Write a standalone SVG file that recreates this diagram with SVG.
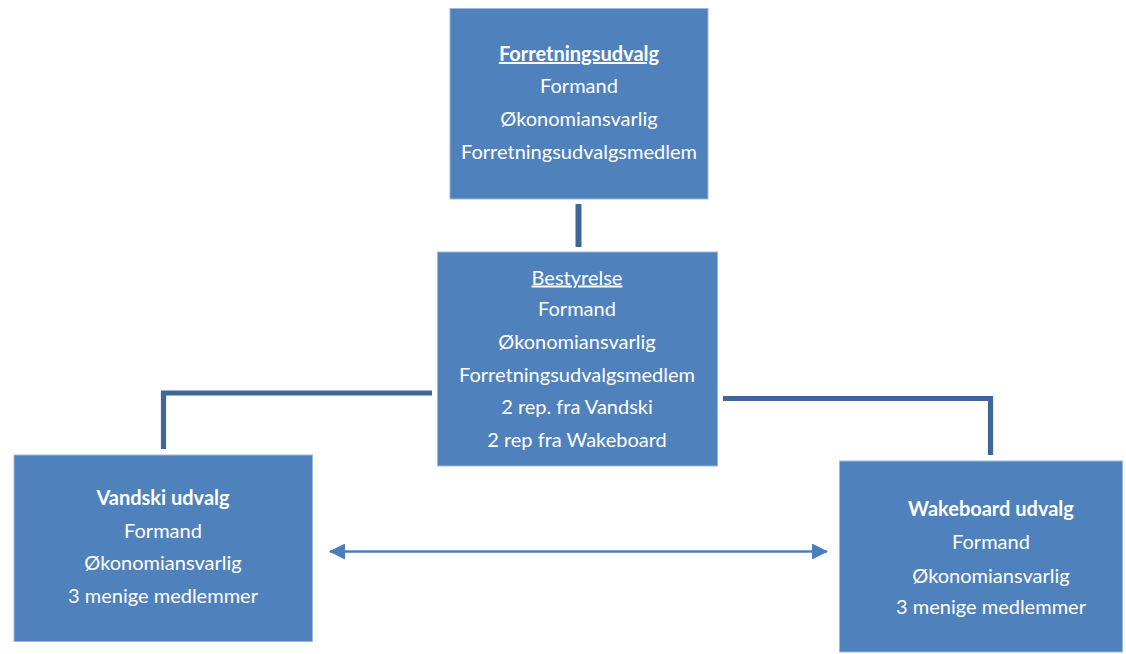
<svg xmlns="http://www.w3.org/2000/svg" width="1126" height="654" viewBox="0 0 1126 654">
<style>
.box{fill:#4F81BD;stroke:#9DB9DD;stroke-width:1}
.t{font-family:Lato,"Open Sans","Liberation Sans",sans-serif;font-size:20px;fill:#FFFFFF;text-anchor:middle}
.b{font-weight:bold}
.u{text-decoration:underline}
.conn{fill:none;stroke:#3D6699;stroke-width:5.2;stroke-linejoin:miter}
.arr{fill:none;stroke:#4A7EBB;stroke-width:2.6}
</style>
<defs>
<marker id="ah" viewBox="0 0 16 16" refX="15" refY="8" markerWidth="16" markerHeight="16" markerUnits="userSpaceOnUse" orient="auto-start-reverse">
<path d="M0,0 L16,8 L0,16 Z" fill="#4A7EBB"/>
</marker>
</defs>
<g id="connectors">
<line class="conn" x1="578.5" y1="204" x2="578.5" y2="247" style="stroke-width:6"/>
<polyline class="conn" points="432,393 163.5,393 163.5,449"/>
<polyline class="conn" points="723,398.5 990.5,398.5 990.5,455"/>
<line class="arr" x1="330" y1="551.5" x2="827" y2="551.5" marker-start="url(#ah)" marker-end="url(#ah)"/>
</g>
<g id="forretningsudvalg">
<rect class="box" x="450" y="8.5" width="258" height="190.5"/>
<text class="t b u" x="579" y="61">Forretningsudvalg</text>
<text class="t" x="579" y="93">Formand</text>
<text class="t" x="579" y="126">Økonomiansvarlig</text>
<text class="t" x="579" y="159">Forretningsudvalgsmedlem</text>
</g>
<g id="bestyrelse">
<rect class="box" x="437.5" y="252" width="280" height="214"/>
<text class="t u" x="577" y="284.5">Bestyrelse</text>
<text class="t" x="577" y="316">Formand</text>
<text class="t" x="577" y="348.5">Økonomiansvarlig</text>
<text class="t" x="577" y="381.5">Forretningsudvalgsmedlem</text>
<text class="t" x="577" y="413.5">2 rep. fra Vandski</text>
<text class="t" x="577" y="446.5">2 rep fra Wakeboard</text>
</g>
<g id="vandski">
<rect class="box" x="14" y="455" width="298.5" height="186.5"/>
<text class="t b" x="163" y="505">Vandski udvalg</text>
<text class="t" x="163" y="537.5">Formand</text>
<text class="t" x="163" y="570">Økonomiansvarlig</text>
<text class="t" x="163" y="602.5">3 menige medlemmer</text>
</g>
<g id="wakeboard">
<rect class="box" x="839.5" y="461" width="283" height="191"/>
<text class="t b" x="991" y="516">Wakeboard udvalg</text>
<text class="t" x="991" y="549">Formand</text>
<text class="t" x="991" y="582.5">Økonomiansvarlig</text>
<text class="t" x="991" y="614">3 menige medlemmer</text>
</g>
</svg>
